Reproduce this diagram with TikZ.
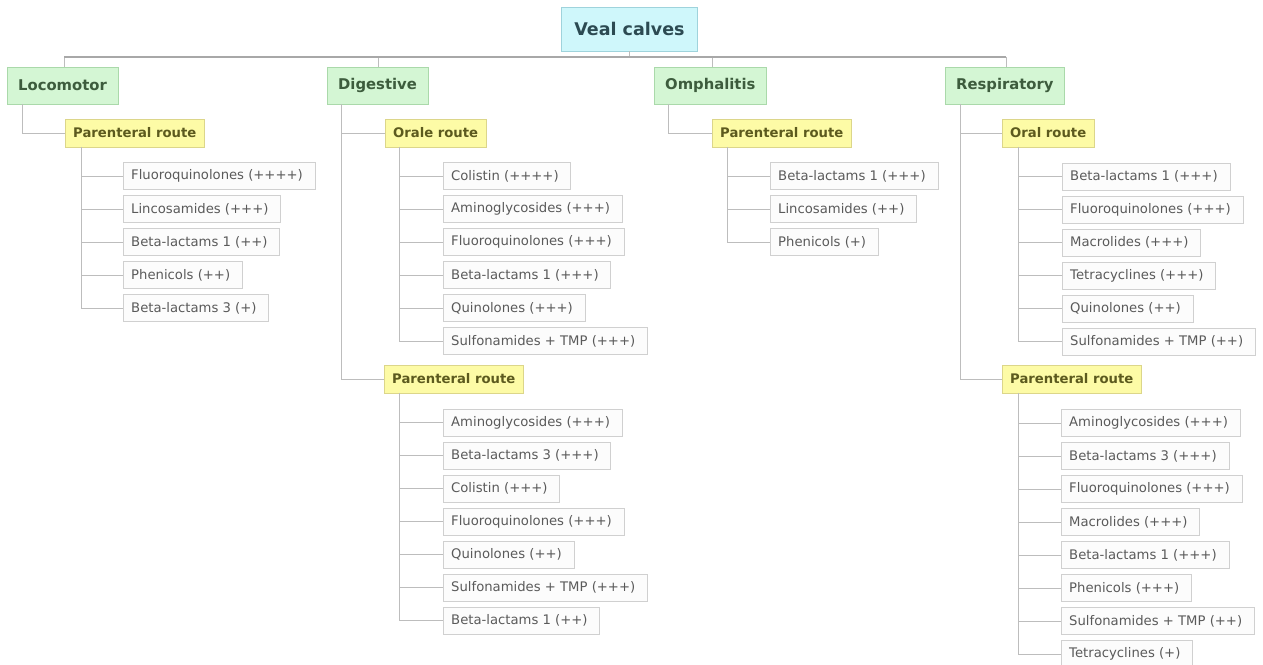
\documentclass[tikz,border=0pt]{standalone}
\usepackage{fontspec}
\setmainfont{DejaVu Sans}
\definecolor{linegray}{HTML}{BDBDBD}
\definecolor{bargray}{HTML}{A8A8A8}
\definecolor{vealfill}{HTML}{CFF7FB}
\definecolor{vealdraw}{HTML}{9FD3DC}
\definecolor{vealtext}{HTML}{2C4A52}
\definecolor{catfill}{HTML}{D4F6D4}
\definecolor{catdraw}{HTML}{AAD9AA}
\definecolor{cattext}{HTML}{3D5C3D}
\definecolor{routefill}{HTML}{FDFBA6}
\definecolor{routedraw}{HTML}{DCD68A}
\definecolor{routetext}{HTML}{5C5A1E}
\definecolor{leaffill}{HTML}{FCFCFC}
\definecolor{leafdraw}{HTML}{D0D0D0}
\definecolor{leaftext}{HTML}{5A5A5A}
\tikzset{
  conn/.style={draw=linegray, line width=1pt},
  bar/.style={draw=bargray, line width=2.5pt},
  vealbox/.style={draw=vealdraw, fill=vealfill, text=vealtext, minimum height=44pt, inner xsep=13pt, inner ysep=0pt, font=\fontsize{17.5}{20}\selectfont\bfseries},
  catbox/.style={draw=catdraw, fill=catfill, text=cattext, anchor=west, minimum height=37pt, inner xsep=11pt, inner ysep=0pt, font=\fontsize{14.8}{18}\selectfont\bfseries},
  routebox/.style={draw=routedraw, fill=routefill, text=routetext, anchor=west, minimum height=28pt, inner xsep=8pt, inner ysep=0pt, font=\fontsize{13.2}{15}\selectfont\bfseries},
  leafbox/.style={draw=leafdraw, fill=leaffill, text=leaftext, anchor=west, minimum height=27pt, inner xsep=8pt, inner ysep=0pt, font=\fontsize{13.2}{15}\selectfont, execute at end node={\hspace{4pt}}}
}
\begin{document}
\begin{tikzpicture}[x=1pt,y=-1pt]
\useasboundingbox (0,0) rectangle (1263,664);
\fill[white] (0,0) rectangle (1263,664);

% root and categories
\node[vealbox] (veal) at (629.5,29) {Veal calves};
\node[catbox] (loco) at (7,85.5) {Locomotor};
\node[catbox] (dig) at (327,85.5) {Digestive};
\node[catbox] (omph) at (654,85.5) {Omphalitis};
\node[catbox] (resp) at (945,85.5) {Respiratory};

\coordinate (sLoco) at (64,57);
\coordinate (sDig) at (378,57);
\coordinate (sOmph) at (712,57);
\coordinate (sResp) at (1006,57);
\draw[conn] (veal.south) -- (veal.south |- sLoco);
\draw[conn] (sLoco) -- (sLoco |- loco.north);
\draw[conn] (sDig) -- (sDig |- dig.north);
\draw[conn] (sOmph) -- (sOmph |- omph.north);
\draw[conn] (sResp) -- (sResp |- resp.north);
\draw[bar] (sLoco) -- (sResp);

% routes
\node[routebox] (lpr) at (65,133) {Parenteral route};
\node[routebox] (dor) at (385,133) {Orale route};
\node[routebox] (dpa) at (384,379) {Parenteral route};
\node[routebox] (opr) at (712,133) {Parenteral route};
\node[routebox] (ror) at (1002,133) {Oral route};
\node[routebox] (rpa) at (1002,379) {Parenteral route};

\draw[conn] ([xshift=15pt]loco.south west) |- (lpr.west);
\draw[conn] ([xshift=14pt]dig.south west) |- (dor.west);
\draw[conn] ([xshift=14pt]dig.south west) |- (dpa.west);
\draw[conn] ([xshift=14pt]omph.south west) |- (opr.west);
\draw[conn] ([xshift=15pt]resp.south west) |- (ror.west);
\draw[conn] ([xshift=15pt]resp.south west) |- (rpa.west);

% leaves
\foreach \t [count=\i from 0] in {Fluoroquinolones (++++),Lincosamides (+++),Beta-lactams 1 (++),Phenicols (++),Beta-lactams 3 (+)}{
  \node[leafbox] (lp\i) at (123,176+33*\i) {\t};
  \draw[conn] ([xshift=16pt]lpr.south west) |- (lp\i.west);
}
\foreach \t [count=\i from 0] in {Colistin (++++),Aminoglycosides (+++),Fluoroquinolones (+++),Beta-lactams 1 (+++),Quinolones (+++),Sulfonamides + TMP (+++)}{
  \node[leafbox] (do\i) at (443,176+33*\i) {\t};
  \draw[conn] ([xshift=14pt]dor.south west) |- (do\i.west);
}
\foreach \t [count=\i from 0] in {Aminoglycosides (+++),Beta-lactams 3 (+++),Colistin (+++),Fluoroquinolones (+++),Quinolones (++),Sulfonamides + TMP (+++),Beta-lactams 1 (++)}{
  \node[leafbox] (dp\i) at (443,422.5+33*\i) {\t};
  \draw[conn] ([xshift=15pt]dpa.south west) |- (dp\i.west);
}
\foreach \t [count=\i from 0] in {Beta-lactams 1 (+++),Lincosamides (++),Phenicols (+)}{
  \node[leafbox] (op\i) at (770,176+33*\i) {\t};
  \draw[conn] ([xshift=15pt]opr.south west) |- (op\i.west);
}
\foreach \t [count=\i from 0] in {Beta-lactams 1 (+++),Fluoroquinolones (+++),Macrolides (+++),Tetracyclines (+++),Quinolones (++),Sulfonamides + TMP (++)}{
  \node[leafbox] (ro\i) at (1062,176.5+33*\i) {\t};
  \draw[conn] ([xshift=16pt]ror.south west) |- (ro\i.west);
}
\foreach \t [count=\i from 0] in {Aminoglycosides (+++),Beta-lactams 3 (+++),Fluoroquinolones (+++),Macrolides (+++),Beta-lactams 1 (+++),Phenicols (+++),Sulfonamides + TMP (++),Tetracyclines (+)}{
  \node[leafbox] (rp\i) at (1061,423+33*\i) {\t};
  \draw[conn] ([xshift=16pt]rpa.south west) |- (rp\i.west);
}
\end{tikzpicture}
\end{document}
